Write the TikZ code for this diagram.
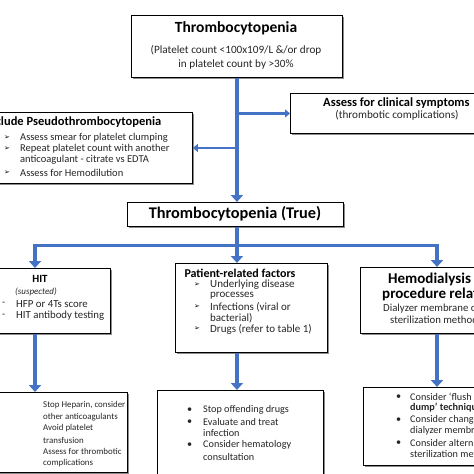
\documentclass[tikz,border=0pt]{standalone}
\usepackage{fontspec}
\setmainfont{Carlito}
\newfontfamily\dv{DejaVu Sans}
\usetikzlibrary{arrows.meta,shadows}
\definecolor{ablue}{HTML}{4472C4}
\definecolor{aedge}{HTML}{2F528F}
\begin{document}
\begin{tikzpicture}[x=1pt,y=-1pt,
  box/.style={draw=black, line width=0.9pt, fill=white, inner sep=0pt, anchor=north west,
    drop shadow={shadow xshift=1.3pt, shadow yshift=-1.3pt, fill=black, opacity=0.45}},
  bigtitle/.style={font=\fontsize{15.5}{17}\selectfont\bfseries, inner sep=0pt},
  midtitle/.style={font=\fontsize{12}{14}\selectfont\bfseries, inner sep=0pt},
  txt/.style={font=\fontsize{10.2}{12}\selectfont, inner sep=0pt, text=black!85},
  ltxt/.style={txt, anchor=west},
  stxt/.style={ltxt, font=\fontsize{8.9}{11}\selectfont},
  wtxt/.style={ltxt, font=\fontsize{10.8}{12}\selectfont},
  bmark/.style={font=\dv\fontsize{7}{8}\selectfont, inner sep=0pt, anchor=west},
  blk/.style={draw=ablue, line width=4.5pt, -{Triangle[width=12pt,length=7pt]}},
  sblk/.style={draw=ablue, line width=2.6pt, -{Triangle[width=8pt,length=5pt]}},
  thinline/.style={draw=ablue, line width=3pt},
]
\useasboundingbox (0,0) rectangle (474,474);
\clip (0,0) rectangle (474,474);

% ---------- boxes ----------
\node[box, minimum width=211pt, minimum height=62pt] (top) at (131,15) {};
\node[box, minimum width=262pt, minimum height=71pt] (pseudo) at (-70,112) {};
\node[box, minimum width=240pt, minimum height=40pt] (clin) at (290,93) {};
\node[box, minimum width=216pt, minimum height=24pt] (true) at (127,202) {};
\node[box, minimum width=150pt, minimum height=65pt] (hit) at (-40,268) {};
\node[box, minimum width=152pt, minimum height=89pt] (pat) at (175,263) {};
\node[box, minimum width=160pt, minimum height=66pt] (hemo) at (360,267) {};
\node[box, minimum width=190pt, minimum height=80pt] (hitact) at (-63,392) {};
\node[box, minimum width=166pt, minimum height=84pt] (patact) at (157,390) {};
\node[box, minimum width=180pt, minimum height=78pt] (hemoact) at (363,387) {};

% ---------- connectors ----------
\draw[blk] (top.south) -- (top.south |- true.north);
\draw[sblk] (top.south |- pseudo.east) -- (pseudo.east);
\draw[sblk] (top.south |- clin.west) -- (clin.west);
\coordinate (hl) at (35,245);
\coordinate (hr) at (437,245);
\draw[thinline] (hl) -- (hr);
\draw[blk] (true.south -| top.south) -- (top.south |- pat.north);
\draw[blk] ([yshift=1.5pt]hl) -- (hl |- hit.north);
\draw[blk] ([yshift=1.5pt]hr) -- (hr |- hemo.north);
\draw[blk] (hl |- hit.south) -- (hl |- hitact.north);
\draw[blk] (top.south |- pat.south) -- (top.south |- patact.north);
\draw[blk] (hr |- hemo.south) -- (hr |- hemoact.north);

% ---------- texts ----------
\node[bigtitle] (t1) at (236,28) {Thrombocytopenia};
\node[txt, font=\fontsize{11.2}{13}\selectfont] (t2) at (236,50) {(Platelet count <100x109/L \&/or drop};
\node[txt, font=\fontsize{11.2}{13}\selectfont] (t3) at (236,65) {in platelet count by >30\%};

\node[midtitle, font=\fontsize{12.5}{14}\selectfont\bfseries, anchor=west] (p0) at (-16,122) {Exclude Pseudothrombocytopenia};
\node[bmark] (pm1) at (4,138) {➢};
\node[wtxt, font=\fontsize{10.5}{12}\selectfont] (p1) at (20,138) {Assess smear for platelet clumping};
\node[bmark] (pm2) at (4,149) {➢};
\node[wtxt, font=\fontsize{10.5}{12}\selectfont] (p2) at (20,149) {Repeat platelet count with another};
\node[wtxt, font=\fontsize{10.5}{12}\selectfont] (p3) at (20,160) {anticoagulant - citrate vs EDTA};
\node[bmark] (pm4) at (4,173) {➢};
\node[wtxt, font=\fontsize{10.5}{12}\selectfont] (p4) at (20,173) {Assess for Hemodilution};

\node[midtitle, font=\fontsize{12.5}{14}\selectfont\bfseries, anchor=west] (c0) at (323,103) {Assess for clinical symptoms};
\node[txt, font=\fontsize{11.2}{13}\selectfont] (c1) at (397,115) {(thrombotic complications)};

\node[bigtitle, font=\fontsize{16.3}{18}\selectfont\bfseries] (tt) at (235,214) {Thrombocytopenia (True)};

\node[midtitle, font=\fontsize{11}{13}\selectfont\bfseries] (h0) at (40,279) {HIT};
\node[txt, font=\fontsize{9}{10}\selectfont\itshape] (h1) at (36,292) {(suspected)};
\node[ltxt] (hm2) at (2,304) {-};
\node[wtxt] (h2) at (16,304) {HFP or 4Ts score};
\node[ltxt] (hm3) at (2,316) {-};
\node[wtxt] (h3) at (16,316) {HIT antibody testing};

\node[midtitle] (r0) at (240,273) {Patient-related factors};
\node[bmark] (rm1) at (194,285) {➢};
\node[wtxt, font=\fontsize{11}{12}\selectfont] (r1) at (210,285) {Underlying disease};
\node[wtxt, font=\fontsize{11}{12}\selectfont] (r1b) at (210,296) {processes};
\node[bmark] (rm2) at (194,307) {➢};
\node[wtxt, font=\fontsize{11}{12}\selectfont] (r2) at (210,307) {Infections (viral or};
\node[wtxt, font=\fontsize{11}{12}\selectfont] (r2b) at (210,318) {bacterial)};
\node[bmark] (rm3) at (194,329) {➢};
\node[wtxt, font=\fontsize{11}{12}\selectfont] (r3) at (210,329) {Drugs (refer to table 1)};

\node[midtitle, font=\fontsize{15}{17}\selectfont\bfseries, anchor=west] (d0) at (388,279) {Hemodialysis};
\node[midtitle, font=\fontsize{15}{17}\selectfont\bfseries, anchor=west] (d1) at (382,294) {procedure related};
\node[wtxt] (d2) at (383,309) {Dialyzer membrane or};
\node[wtxt] (d3) at (390,320) {sterilization method};

\node[stxt] (a1) at (43,405) {Stop Heparin, consider};
\node[stxt] (a2) at (43,417) {other anticoagulants};
\node[stxt] (a3) at (43,428) {Avoid platelet};
\node[stxt] (a4) at (43,440) {transfusion};
\node[stxt] (a5) at (43,451) {Assess for thrombotic};
\node[stxt] (a6) at (43,463) {complications};

\node[ltxt] (bm1) at (187,410) {•};
\node[ltxt] (b1) at (203,410) {Stop offending drugs};
\node[ltxt] (bm2) at (187,422) {•};
\node[ltxt] (b2) at (203,422) {Evaluate and treat};
\node[ltxt] (b2b) at (203,433) {infection};
\node[ltxt] (bm3) at (187,445) {•};
\node[ltxt] (b3) at (203,445) {Consider hematology};
\node[ltxt] (b3b) at (203,457) {consultation};

\node[ltxt] (em1) at (396,397) {•};
\node[ltxt] (e1) at (410,397) {Consider ‘flush and};
\node[ltxt, font=\fontsize{10.2}{12}\selectfont\bfseries] (e1b) at (410,408) {dump’ technique};
\node[ltxt] (em2) at (396,420) {•};
\node[ltxt] (e2) at (410,420) {Consider changing};
\node[ltxt] (e2b) at (410,431) {dialyzer membrane};
\node[ltxt] (em3) at (396,443) {•};
\node[ltxt] (e3) at (410,443) {Consider alternative};
\node[ltxt] (e3b) at (410,454) {sterilization method};
\end{tikzpicture}
\end{document}
